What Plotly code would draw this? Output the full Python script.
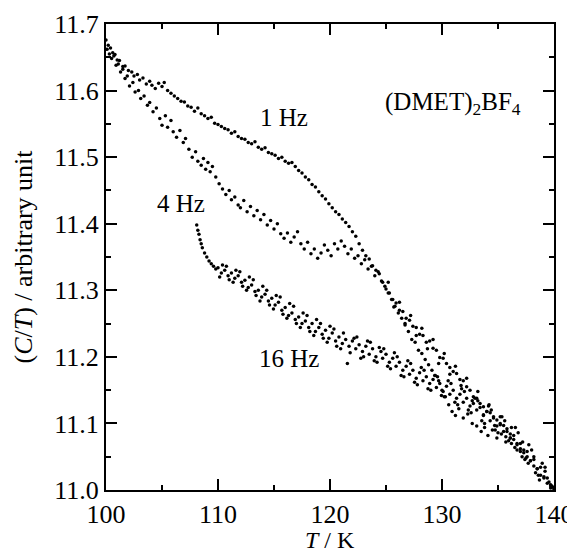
import plotly.graph_objects as go

# 1 Hz branch (upper curve)
t_1hz = [
    100.0, 100.2, 100.4, 100.6, 100.8, 101.0, 101.2, 101.5, 101.7, 102.0,
    102.3, 102.5, 102.8, 103.0, 103.3, 103.6, 103.9, 104.1, 104.4, 104.7,
    105.0, 105.2, 105.5, 105.8, 106.1, 106.4, 106.7, 107.0, 107.3, 107.6,
    107.9, 108.2, 108.5, 108.8, 109.1, 109.4, 109.7, 110.0, 110.3, 110.6,
    110.9, 111.2, 111.5, 111.8, 112.1, 112.4, 112.7, 113.0, 113.3, 113.6,
    113.9, 114.2, 114.5, 114.8, 115.1, 115.4, 115.7, 116.0, 116.3, 116.6,
    116.9, 117.2, 117.5, 117.8, 118.1, 118.4, 118.7, 119.0, 119.3, 119.6,
    119.9, 120.2, 120.5, 120.8, 121.1, 121.4, 121.7, 122.0, 122.3, 122.6,
    122.9, 123.2, 123.5, 123.8, 124.1, 124.4, 124.7, 125.0, 125.3, 125.6,
    125.9, 126.2, 126.5, 126.8, 127.1, 127.4, 127.7, 128.0, 128.3, 128.6,
    128.9, 129.2, 129.5, 129.8, 130.1, 130.4, 130.7, 131.0, 131.3, 131.6,
    131.9, 132.2, 132.5, 132.8, 133.1, 133.4, 133.7, 134.0, 134.3, 134.6,
    134.9, 135.2, 135.5, 135.8, 136.1, 136.4, 136.7, 137.0, 137.3, 137.6,
    137.9, 138.2, 138.5, 138.8, 139.1, 139.4, 139.7, 140.0,
    125.2, 125.7, 126.2, 126.7, 127.2, 127.7, 128.2, 128.7, 129.2, 129.7,
    130.2, 130.7, 131.2, 131.7, 132.2, 132.7, 133.2, 133.7, 134.2, 134.7,
    135.2, 135.7, 136.2, 136.7, 137.2, 137.7, 138.2, 138.7, 139.2, 139.7,
]
c_1hz = [
    11.676, 11.668, 11.664, 11.657, 11.654, 11.646, 11.645, 11.636, 11.637, 11.630,
    11.628, 11.622, 11.624, 11.616, 11.619, 11.610, 11.614, 11.608, 11.603, 11.611,
    11.606, 11.612, 11.600, 11.596, 11.592, 11.588, 11.584, 11.583, 11.577, 11.575,
    11.569, 11.574, 11.565, 11.562, 11.558, 11.560, 11.551, 11.549, 11.546, 11.543,
    11.541, 11.536, 11.538, 11.531, 11.528, 11.527, 11.522, 11.520, 11.523, 11.515,
    11.512, 11.514, 11.507, 11.505, 11.503, 11.498, 11.500, 11.494, 11.491, 11.492,
    11.486, 11.480, 11.476, 11.470, 11.466, 11.459, 11.455, 11.448, 11.442, 11.437,
    11.430, 11.424, 11.418, 11.414, 11.407, 11.402, 11.396, 11.388, 11.381, 11.370,
    11.360, 11.352, 11.347, 11.337, 11.330, 11.325, 11.312, 11.302, 11.296, 11.286,
    11.281, 11.270, 11.268, 11.258, 11.255, 11.246, 11.244, 11.234, 11.232, 11.222,
    11.224, 11.213, 11.210, 11.199, 11.198, 11.190, 11.184, 11.178, 11.175, 11.166,
    11.164, 11.155, 11.150, 11.140, 11.138, 11.130, 11.125, 11.118, 11.116, 11.108,
    11.105, 11.098, 11.097, 11.088, 11.084, 11.076, 11.070, 11.062, 11.060, 11.050,
    11.044, 11.036, 11.032, 11.022, 11.018, 11.010, 11.006, 11.001,
    11.312, 11.275, 11.282, 11.250, 11.262, 11.232, 11.243, 11.212, 11.226, 11.190,
    11.205, 11.174, 11.186, 11.157, 11.168, 11.134, 11.148, 11.113, 11.128, 11.097,
    11.110, 11.080, 11.094, 11.060, 11.072, 11.040, 11.050, 11.015, 11.028, 11.003,
]

# 4 Hz branch (middle curve)
t_4hz = [
    100.1, 100.3, 100.5, 100.7, 100.9, 101.1, 101.3, 101.5, 101.7, 101.9,
    102.1, 102.4, 102.6, 102.9, 103.1, 103.4, 103.7, 103.9, 104.2, 104.5,
    104.8, 105.0, 105.3, 105.5, 105.8, 106.0, 106.3, 106.6, 106.9, 107.1,
    107.4, 107.7, 108.0, 108.2, 108.5, 108.7, 108.9, 109.1, 109.3, 109.5,
    109.8, 110.1, 110.4, 110.7, 111.0, 111.2, 111.5, 111.8, 112.0, 112.3,
    112.6, 112.9, 113.2, 113.5, 113.8, 114.1, 114.4, 114.7, 115.0, 115.3,
    115.6, 115.9, 116.2, 116.5, 116.8, 117.1, 117.4, 117.7, 118.0, 118.3,
    118.6, 118.9, 119.2, 119.5, 119.8, 120.1, 120.4, 120.7, 121.0, 121.3,
    121.6, 121.9, 122.2, 122.5, 122.8, 123.1, 123.4, 123.7, 124.0, 124.3,
    124.6, 124.9, 125.2, 125.5, 125.8, 126.1, 126.4, 126.7, 127.0, 127.3,
    127.6, 127.9, 128.2, 128.5, 128.8, 129.1, 129.4, 129.7, 130.0, 130.3,
    130.6, 130.9, 131.2, 131.5, 131.9, 132.3, 132.7, 133.1, 133.5, 133.8,
    134.1, 134.5, 134.9, 135.3, 135.7, 136.1, 136.5, 137.0, 137.5,
]
c_4hz = [
    11.662, 11.655, 11.648, 11.652, 11.638, 11.640, 11.628, 11.632, 11.618, 11.622,
    11.607, 11.612, 11.598, 11.600, 11.588, 11.592, 11.578, 11.582, 11.568, 11.574,
    11.558, 11.548, 11.562, 11.545, 11.555, 11.538, 11.530, 11.540, 11.522, 11.528,
    11.512, 11.500, 11.508, 11.494, 11.488, 11.498, 11.482, 11.492, 11.478, 11.486,
    11.470, 11.460, 11.452, 11.444, 11.450, 11.436, 11.440, 11.428, 11.424, 11.435,
    11.418, 11.426, 11.412, 11.420, 11.406, 11.414, 11.398, 11.405, 11.392, 11.400,
    11.385, 11.378, 11.386, 11.372, 11.380, 11.388, 11.370, 11.362, 11.372, 11.355,
    11.362, 11.348, 11.356, 11.368, 11.360, 11.352, 11.370, 11.362, 11.374, 11.366,
    11.355, 11.362, 11.348, 11.352, 11.340, 11.346, 11.332, 11.336, 11.322, 11.328,
    11.314, 11.306, 11.296, 11.286, 11.276, 11.266, 11.258, 11.248, 11.238, 11.226,
    11.222, 11.210, 11.205, 11.196, 11.188, 11.180, 11.172, 11.164, 11.150, 11.140,
    11.128, 11.118, 11.112, 11.122, 11.108, 11.114, 11.100, 11.096, 11.088, 11.094,
    11.082, 11.090, 11.078, 11.084, 11.072, 11.078, 11.064, 11.058, 11.048,
]

# 16 Hz branch (lower curve)
t_16hz = [
    108.1, 108.2, 108.3, 108.4, 108.5, 108.6, 108.8, 109.0, 109.2, 109.4,
    109.6, 109.8,
    110.0, 110.3, 110.6, 110.9, 111.2, 111.5, 111.8, 112.1, 112.4, 112.7,
    113.0, 113.3, 113.6, 113.9, 114.2, 114.5, 114.8, 115.1, 115.4, 115.7,
    116.0, 116.3, 116.6, 116.9, 117.2, 117.5, 117.8, 118.1, 118.4, 118.7,
    119.0, 119.3, 119.6, 119.9, 120.2, 120.5, 120.8, 121.1, 121.4, 121.7,
    122.0, 122.3, 122.6, 122.9, 123.2, 123.5, 123.8, 124.1, 124.4, 124.7,
    125.0, 125.3, 125.6, 125.9, 126.2, 126.5, 126.8, 127.1, 127.4, 127.7,
    128.0, 128.3, 128.6, 128.9, 129.2, 129.5, 129.8, 130.1, 130.4, 130.7,
    131.0, 131.3, 131.6, 131.9, 132.2, 132.5, 132.8, 133.1, 133.4, 133.7,
    134.0, 134.3, 134.6, 134.9, 135.2, 135.5, 135.8, 136.1, 136.4, 136.7,
    137.0, 137.3, 137.6, 137.9, 138.2, 138.5, 138.8, 139.1, 139.4, 139.7,
    139.9,
    110.15, 110.75, 111.35, 111.95, 112.55, 113.15, 113.75, 114.35, 114.95, 115.55,
    116.15, 116.75, 117.35, 117.95, 118.55, 119.15, 119.75, 120.35, 120.95, 121.55,
    122.15, 122.75, 123.35, 123.95, 124.55, 125.15, 125.75, 126.35, 126.95, 127.55,
    128.15, 128.75, 129.35, 129.95, 130.55, 131.15, 131.75, 132.35, 132.95, 133.55,
    134.15, 134.75, 135.35, 135.95, 136.55, 137.15, 137.75, 138.35, 138.95, 139.55,
    110.4, 111.0, 111.6, 112.2, 112.8, 113.4, 114.0, 114.6, 115.2, 115.8,
    116.4, 117.0, 117.6, 118.2, 118.8, 119.4, 120.0, 120.6, 121.2, 121.8,
    122.4, 123.0, 123.6, 124.2, 124.8, 125.4, 126.0, 126.6, 127.2, 127.8,
    128.4, 129.0, 129.6, 130.2, 130.8, 131.4, 132.0, 132.6, 133.2, 133.8,
    134.4, 135.0, 135.6, 136.2, 136.8, 137.4, 138.0, 138.6, 139.2, 139.8,
]
c_16hz = [
    11.398, 11.390, 11.384, 11.376, 11.370, 11.364, 11.356, 11.350, 11.344, 11.340,
    11.336, 11.332,
    11.334, 11.326, 11.330, 11.322, 11.326, 11.318, 11.322, 11.312, 11.315, 11.304,
    11.308, 11.298, 11.300, 11.290, 11.294, 11.284, 11.288, 11.278, 11.282, 11.270,
    11.274, 11.262, 11.266, 11.256, 11.260, 11.250, 11.254, 11.244, 11.250, 11.238,
    11.244, 11.234, 11.240, 11.228, 11.236, 11.224, 11.230, 11.220, 11.226, 11.216,
    11.224, 11.212, 11.218, 11.208, 11.216, 11.204, 11.212, 11.200, 11.214, 11.198,
    11.204, 11.192, 11.198, 11.186, 11.192, 11.180, 11.186, 11.174, 11.180, 11.168,
    11.176, 11.164, 11.170, 11.160, 11.166, 11.154, 11.160, 11.148, 11.156, 11.144,
    11.150, 11.138, 11.144, 11.132, 11.138, 11.126, 11.130, 11.120, 11.124, 11.112,
    11.118, 11.104, 11.110, 11.096, 11.100, 11.088, 11.092, 11.078, 11.082, 11.068,
    11.070, 11.056, 11.058, 11.044, 11.046, 11.032, 11.034, 11.020, 11.018, 11.008,
    11.004,
    11.320, 11.336, 11.312, 11.328, 11.300, 11.316, 11.284, 11.300, 11.272, 11.290,
    11.258, 11.276, 11.244, 11.262, 11.232, 11.250, 11.222, 11.242, 11.212, 11.190,
    11.228, 11.198, 11.224, 11.194, 11.208, 11.186, 11.206, 11.172, 11.194, 11.162,
    11.184, 11.152, 11.172, 11.142, 11.164, 11.132, 11.152, 11.120, 11.138, 11.104,
    11.126, 11.090, 11.110, 11.074, 11.094, 11.050, 11.068, 11.026, 11.040, 11.012,
    11.338, 11.316, 11.330, 11.306, 11.320, 11.292, 11.306, 11.278, 11.292, 11.264,
    11.280, 11.250, 11.266, 11.238, 11.256, 11.228, 11.246, 11.216, 11.236, 11.206,
    11.230, 11.200, 11.222, 11.192, 11.212, 11.182, 11.200, 11.170, 11.190, 11.158,
    11.180, 11.150, 11.170, 11.140, 11.160, 11.128, 11.148, 11.116, 11.134, 11.100,
    11.120, 11.086, 11.104, 11.070, 11.086, 11.046, 11.060, 11.022, 11.034, 11.006,
]

series = [("1 Hz", t_1hz, c_1hz), ("4 Hz", t_4hz, c_4hz), ("16 Hz", t_16hz, c_16hz)]

# label text and where it sits (data coords)
labels = [
    ("1 Hz", 115.9, 11.559),
    ("4 Hz", 106.7, 11.431),
    ("16 Hz", 116.3, 11.198),
    ("(DMET)<sub>2</sub>BF<sub>4</sub>", 131.0, 11.580),
]

font_family = "Liberation Serif"

fig = go.Figure()
for name, t, c in series:
    fig.add_trace(
        go.Scatter(
            x=t,
            y=c,
            mode="markers",
            name=name,
            marker=dict(color="black", size=3.5),
        )
    )

for text, x, y in labels:
    fig.add_annotation(
        x=x, y=y, text=text, showarrow=False,
        font=dict(family=font_family, size=25, color="black"),
    )

# x title as a paper annotation so it sits just inside the bottom edge
fig.add_annotation(
    x=0.5, y=-0.1395, xref="paper", yref="paper",
    xanchor="center", yanchor="bottom",
    text="<i>T</i> / K", showarrow=False,
    font=dict(family=font_family, size=24, color="black"),
)

axis_style = dict(
    showline=True,
    linecolor="black",
    linewidth=2,
    mirror="ticks",
    ticks="inside",
    ticklen=11,
    tickwidth=2,
    tickcolor="black",
    showgrid=False,
    zeroline=False,
    automargin=False,
    tickfont=dict(family=font_family, size=26, color="black"),
)

fig.update_xaxes(
    range=[100, 140],
    dtick=10,
    minor=dict(dtick=5, ticks="inside", ticklen=5, tickwidth=2, tickcolor="black"),
    **axis_style,
)
fig.update_yaxes(
    range=[11.0, 11.7],
    dtick=0.1,
    tickformat=".1f",
    minor=dict(dtick=0.05, ticks="inside", ticklen=5, tickwidth=2, tickcolor="black"),
    title=dict(text="(<i>C</i>/<i>T</i>) / arbitrary unit", font=dict(family=font_family, size=26, color="black"), standoff=14),
    **axis_style,
)

# the page adds an 8 px body margin, so the plot box is shifted back by that much
fig.update_layout(
    width=575,
    height=556,
    showlegend=False,
    margin=dict(l=98, r=29, t=16, b=74),
    plot_bgcolor="white",
    paper_bgcolor="white",
    font=dict(family=font_family, color="black"),
)

fig.write_html("out.html")
